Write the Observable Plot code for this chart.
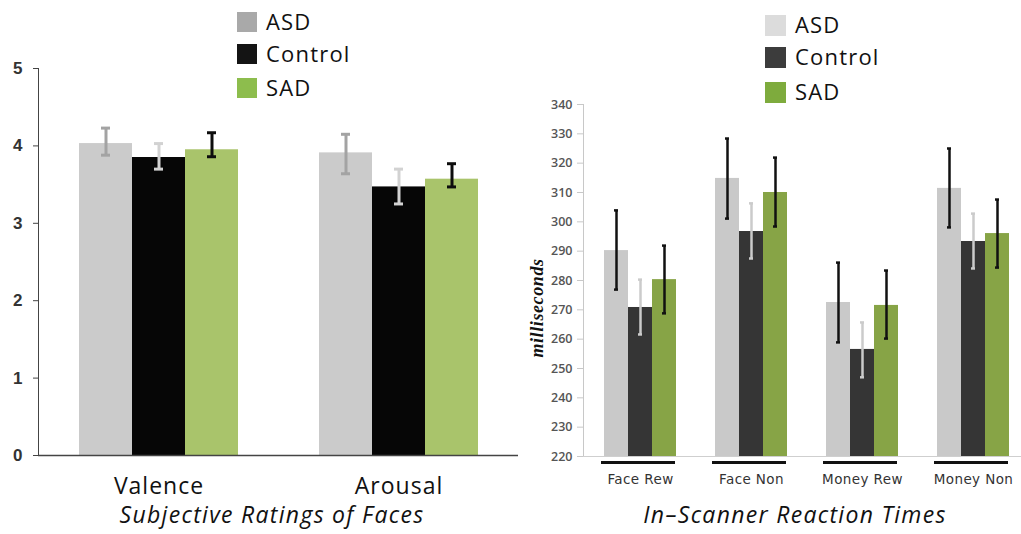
<!DOCTYPE html>
<html>
<head>
<meta charset="utf-8">
<script src="https://cdn.jsdelivr.net/npm/d3@7"></script>
<script src="https://cdn.jsdelivr.net/npm/@observablehq/plot@0.6"></script>
<style>
  html, body { margin: 0; padding: 0; background: #fff; }
  #root { position: relative; width: 1021px; height: 534px; overflow: hidden; background: #fff; }
  .abs { position: absolute; }
  .plotwrap svg { max-width: none !important; background: transparent !important; overflow: visible; }
  .legend { position: absolute; font-family: "Open Sans", sans-serif; font-size: 22px; letter-spacing: 1.2px; color: #111; }
  .legend .row { position: absolute; white-space: nowrap; }
  .legend .sw { position: absolute; left: 0; }
  .legend .lb { position: absolute; line-height: 1; }
  .title { position: absolute; font-family: "Open Sans", sans-serif; font-style: italic; font-size: 23px; line-height: 1; letter-spacing: 1.3px; color: #111; white-space: nowrap; transform: translateX(-50%); }
  .ylab { position: absolute; font-family: "Liberation Serif", serif; font-weight: bold; font-style: italic; font-size: 18px; letter-spacing: 0.6px; color: #111; white-space: nowrap; transform: translate(-50%, -50%) rotate(-90deg); }
  /* left chart axes */
  .lp g[aria-label^="y-axis"] text { font-family: "Liberation Sans", Arial, sans-serif; font-weight: bold; font-size: 17px; fill: #333; }
  .lp g[aria-label^="fx-axis"] text { font-family: "Open Sans", sans-serif; font-size: 23px; letter-spacing: 1px; fill: #111; }
  /* right chart axes */
  .rp g[aria-label^="y-axis"] text { font-family: "Open Sans", sans-serif; font-weight: 600; font-size: 12.5px; fill: #555; }
  .rp g[aria-label^="fx-axis"] text { font-family: "DejaVu Sans", sans-serif; font-size: 13.5px; letter-spacing: 0.4px; fill: #333; }
</style>
</head>
<body>
<div id="root"></div>
<script>
// ---------- Data ----------
const groups = ["ASD", "Control", "SAD"];

// Left: Subjective Ratings of Faces
const ratingCategories = ["Valence", "Arousal"];
const ratingASD     = [4.03, 3.91];
const ratingASDLo   = [3.88, 3.64];
const ratingASDHi   = [4.23, 4.15];
const ratingControl   = [3.85, 3.47];
const ratingControlLo = [3.70, 3.25];
const ratingControlHi = [4.03, 3.70];
const ratingSAD   = [3.95, 3.57];
const ratingSADLo = [3.86, 3.47];
const ratingSADHi = [4.17, 3.77];
const ratingTicks = [0, 1, 2, 3, 4, 5];

// Right: In-Scanner Reaction Times (ms)
const rtCategories = ["Face Rew", "Face Non", "Money Rew", "Money Non"];
const rtASD     = [290.2, 314.8, 272.5, 311.4];
const rtASDLo   = [276.9, 301.1, 258.9, 298.1];
const rtASDHi   = [303.9, 328.4, 286.1, 325.0];
const rtControl   = [270.8, 296.7, 256.5, 293.3];
const rtControlLo = [261.6, 287.5, 247.0, 284.1];
const rtControlHi = [280.3, 306.3, 265.7, 302.8];
const rtSAD   = [280.3, 310.0, 271.5, 296.0];
const rtSADLo = [268.8, 298.4, 260.2, 284.4];
const rtSADHi = [291.9, 321.9, 283.4, 307.6];
const rtTicks = [220, 230, 240, 250, 260, 270, 280, 290, 300, 310, 320, 330, 340];
const rtLabel = "milliseconds";

// ---------- Build rows ----------
function rows(cats, series) {
  const out = [];
  cats.forEach((c, i) => {
    series.forEach(s => out.push({cat: c, group: s.group, value: s.v[i], lo: s.lo[i], hi: s.hi[i]}));
  });
  return out;
}
const leftRows = rows(ratingCategories, [
  {group: "ASD", v: ratingASD, lo: ratingASDLo, hi: ratingASDHi},
  {group: "Control", v: ratingControl, lo: ratingControlLo, hi: ratingControlHi},
  {group: "SAD", v: ratingSAD, lo: ratingSADLo, hi: ratingSADHi}
]);
const rightRows = rows(rtCategories, [
  {group: "ASD", v: rtASD, lo: rtASDLo, hi: rtASDHi},
  {group: "Control", v: rtControl, lo: rtControlLo, hi: rtControlHi},
  {group: "SAD", v: rtSAD, lo: rtSADLo, hi: rtSADHi}
]);

// ---------- Styles ----------
const leftBarColors  = ["#cbcbcb", "#060606", "#a9c46b"];
const leftErrColors  = {ASD: "#a3a3a3", Control: "#d2d2d2", SAD: "#0d0d0d"};
const leftLegendColors = ["#a9a9a9", "#141414", "#8dbd4d"];
const rightBarColors = ["#c9c9c9", "#353535", "#87a446"];
const rightErrColors = {ASD: "#111111", Control: "#cbcbcb", SAD: "#111111"};
const rightLegendColors = ["#dcdcdc", "#3c3c3c", "#7eab3d"];

function errMarks(data, colors, capInset, sw) {
  const marks = [];
  for (const g of groups) {
    const f = d => d.group === g;
    marks.push(Plot.ruleX(data, {filter: f, x: "group", y1: "lo", y2: "hi", stroke: colors[g], strokeWidth: sw}));
    marks.push(Plot.tickY(data, {filter: f, x: "group", y: "lo", stroke: colors[g], strokeWidth: sw, insetLeft: capInset, insetRight: capInset}));
    marks.push(Plot.tickY(data, {filter: f, x: "group", y: "hi", stroke: colors[g], strokeWidth: sw, insetLeft: capInset, insetRight: capInset}));
  }
  return marks;
}

const root = document.getElementById("root");
function place(svg, cls, x, w, color) {
  svg.classList.add(cls);
  svg.style.color = color;
  const wrap = document.createElement("div");
  wrap.className = "abs plotwrap";
  wrap.style.left = x + "px"; wrap.style.top = "0px"; wrap.style.width = w + "px";
  wrap.appendChild(svg);
  root.appendChild(wrap);
}

// ---------- Left chart ----------
const L = {width: 520, height: 534, marginLeft: 38, marginRight: 2, marginTop: 68, marginBottom: 79};
const left = Plot.plot({
  ...L,
  facet: {data: leftRows, x: "cat"},
  fx: {domain: ratingCategories, paddingInner: 0.3375, paddingOuter: 0.16875, label: null, tickSize: 0, tickPadding: 22},
  x: {domain: groups, padding: 0, axis: null},
  y: {domain: [0, 5], axis: null},
  color: {domain: groups, range: leftBarColors},
  marks: [
    Plot.barY(leftRows, {x: "group", y: "value", fill: "group"}),
    ...errMarks(leftRows, leftErrColors, 22, 3)
  ]
});
place(left, "lp", 0, 520, "#444");
// y axis and baseline across the whole left frame
const leftAxes = Plot.plot({
  ...L,
  x: {domain: ratingCategories, axis: null},
  y: {domain: [0, 5], ticks: ratingTicks, tickFormat: "d", tickSize: 5, tickPadding: 11, label: null, line: true},
  marks: [Plot.ruleY([0], {stroke: "#444", strokeWidth: 1.5})]
});
place(leftAxes, "lp", 0, 520, "#444");

// ---------- Right chart ----------
const R = {width: 530, height: 534, marginLeft: 83, marginRight: 0, marginTop: 104, marginBottom: 78};
const right = Plot.plot({
  ...R,
  facet: {data: rightRows, x: "cat"},
  fx: {domain: rtCategories, paddingInner: 0.329, paddingOuter: 0.1645, label: null, tickSize: 0, tickPadding: 18},
  x: {domain: groups, padding: 0, axis: null},
  y: {domain: [220, 340], axis: null},
  color: {domain: groups, range: rightBarColors},
  marks: [
    Plot.barY(rightRows, {x: "group", y1: 220, y2: "value", fill: "group"}),
    ...errMarks(rightRows, rightErrColors, 10, 2.5),
    Plot.ruleY([220], {dy: 6, dx: -2, stroke: "#111", strokeWidth: 3})
  ]
});
place(right, "rp", 500, 530, "#c8c8c8");
const rightAxes = Plot.plot({
  ...R,
  x: {domain: rtCategories, axis: null},
  y: {domain: [220, 340], ticks: rtTicks, tickFormat: "d", tickSize: 6, tickPadding: 5, label: null, line: true},
  marks: [Plot.ruleY([220], {stroke: "#cfcfcf", strokeWidth: 1})]
});
place(rightAxes, "rp", 500, 530, "#c8c8c8");

// y label of the right chart
const yl = document.createElement("div");
yl.className = "ylab";
yl.textContent = rtLabel;
yl.style.left = "537px"; yl.style.top = "308px";
root.appendChild(yl);

// ---------- Legends ----------
function legend(x, y, colors, rowTops, sw) {
  const Lg = document.createElement("div");
  Lg.className = "legend";
  Lg.style.left = x + "px"; Lg.style.top = y + "px";
  groups.forEach((g, i) => {
    const r = document.createElement("div");
    r.className = "row";
    r.style.top = rowTops[i] + "px";
    const s = document.createElement("div");
    s.className = "sw";
    s.style.width = sw + "px"; s.style.height = sw + "px"; s.style.background = colors[i];
    const t = document.createElement("div");
    t.className = "lb";
    t.textContent = g;
    t.style.left = (sw + 9) + "px"; t.style.top = "-2px";
    r.appendChild(s); r.appendChild(t);
    Lg.appendChild(r);
  });
  root.appendChild(Lg);
}
legend(237, 12, leftLegendColors, [0, 32, 66], 20);
legend(765, 15, rightLegendColors, [0, 32, 67], 21);

// ---------- Titles ----------
function title(text, cx, top) {
  const t = document.createElement("div");
  t.className = "title";
  t.textContent = text;
  t.style.left = cx + "px"; t.style.top = top + "px";
  root.appendChild(t);
}
title("Subjective Ratings of Faces", 272, 503);
title("In\u2013Scanner Reaction Times", 795, 503);
</script>
</body>
</html>
